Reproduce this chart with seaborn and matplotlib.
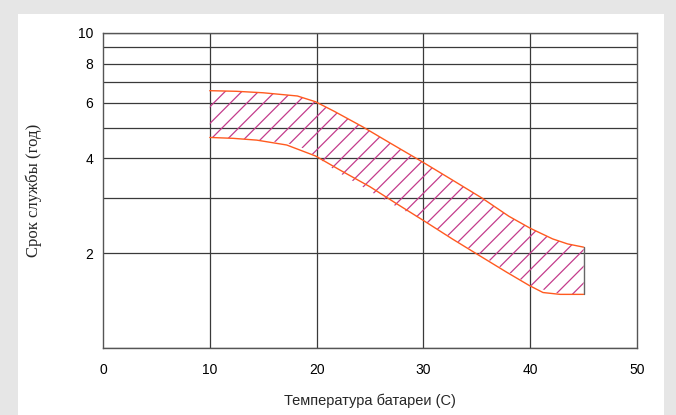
import matplotlib
matplotlib.use("Agg")
import matplotlib.pyplot as plt
import matplotlib.patches as mpatches
from matplotlib.ticker import FixedLocator, NullFormatter
import seaborn as sns
import pandas as pd

# upper and lower limits of service life vs battery temperature
upper_t = [10, 12.5, 15, 18.2, 19.9, 21.7, 24.3, 27, 30, 32.8, 35.5, 38, 40, 42.1, 43.5, 45]
upper_v = [6.56, 6.53, 6.46, 6.31, 6.05, 5.63, 5.04, 4.45, 3.88, 3.40, 2.99, 2.62, 2.40, 2.22, 2.14, 2.09]
lower_t = [10, 12.2, 14.4, 17.2, 19.9, 22.2, 25, 27.5, 30, 32.7, 35.3, 37.8, 39.9, 41.2, 42.8, 45]
lower_v = [4.66, 4.63, 4.57, 4.41, 4.07, 3.67, 3.25, 2.87, 2.54, 2.22, 1.96, 1.74, 1.58, 1.50, 1.48, 1.48]

x_ticks = [0, 10, 20, 30, 40, 50]
y_ticks = [2, 4, 6, 8, 10]
y_grid = [1, 2, 3, 4, 5, 6, 7, 8, 9, 10]

sns.set_theme(style="white")
plt.rcParams["font.family"] = ["Liberation Sans", "DejaVu Sans"]
plt.rcParams["hatch.linewidth"] = 0.9

fig = plt.figure(figsize=(6.76, 4.15), dpi=100, facecolor="#e6e6e6")
fig.patches.append(mpatches.Rectangle((18 / 676, 0), (664 - 18) / 676, 1 - 14 / 415,
                                      transform=fig.transFigure, facecolor="white",
                                      edgecolor="none", zorder=-10))
ax = fig.add_axes([103 / 676, 1 - 348 / 415, (637 - 103) / 676, (348 - 33) / 415])
ax.set_facecolor("white")

ax.set_yscale("log")
ax.set_xlim(0, 50)
ax.set_ylim(1, 10)

# hatched band
ax.fill_between(upper_t, upper_v, lower_v, facecolor="none", edgecolor="#c43c8c",
                hatch="//", linewidth=0, zorder=2)

df_up = pd.DataFrame({"t": upper_t, "v": upper_v})
df_lo = pd.DataFrame({"t": lower_t, "v": lower_v})
sns.lineplot(data=df_up, x="t", y="v", ax=ax, color="#ff5a1f", linewidth=1.0, zorder=3)
sns.lineplot(data=df_lo, x="t", y="v", ax=ax, color="#ff5a1f", linewidth=1.0, zorder=3)
ax.plot([45, 45], [lower_v[-1], upper_v[-1]], color="#666666", linewidth=1.0, zorder=3)

# grid
for v in y_grid:
    ax.axhline(v, color="#3a3a3a", linewidth=0.9, zorder=1)
for t in x_ticks[1:-1]:
    ax.axvline(t, color="#3a3a3a", linewidth=0.9, zorder=1)

ax.yaxis.set_major_locator(FixedLocator(y_ticks))
ax.yaxis.set_minor_locator(FixedLocator([]))
ax.yaxis.set_minor_formatter(NullFormatter())
ax.set_yticklabels([str(v) for v in y_ticks])
ax.set_xticks(x_ticks)
ax.set_xticklabels([str(t) for t in x_ticks])
ax.tick_params(axis="both", length=0, labelsize=10, colors="black")
ax.tick_params(axis="x", pad=11)
ax.tick_params(axis="y", pad=7)

for s in ax.spines.values():
    s.set_color("#555555")
    s.set_linewidth(1.0)

ax.set_xlabel("Температура батареи (С)", fontsize=10.5, labelpad=12)
ax.set_ylabel("Срок службы (год)", fontsize=12, family=["Liberation Serif", "DejaVu Serif"])
ax.yaxis.set_label_coords(-0.115, 0.5)

fig.savefig("out.png", dpi=100, facecolor=fig.get_facecolor())
